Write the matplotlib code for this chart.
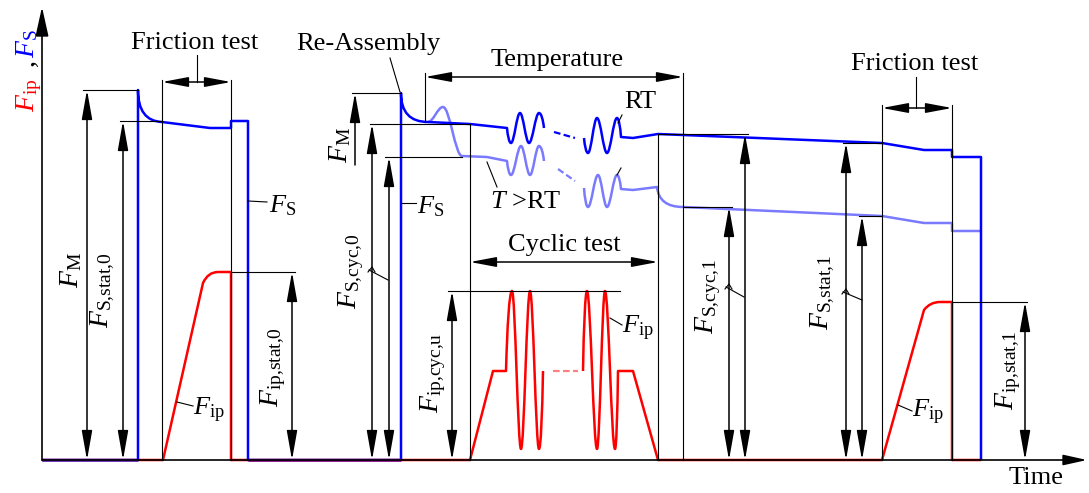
import matplotlib
matplotlib.use('Agg')
import matplotlib.pyplot as plt
from matplotlib.path import Path
from matplotlib.patches import PathPatch

plt.rcParams['font.family'] = 'Liberation Serif'
plt.rcParams['mathtext.fontset'] = 'custom'
plt.rcParams['mathtext.rm'] = 'Liberation Serif'
plt.rcParams['mathtext.it'] = 'Liberation Serif:italic'

# schematic time axis (x) and force axis (F), arbitrary units
# kinds: M move, L line, Q/q rounded corner (ctrl/end), R/S/E wave start/extremum/end

# clamp force F_S, dark blue (room temperature)
fs_a_t = [42, 138, 138, 138, 162, 210, 231, 231, 248, 248, 401, 401, 401, 428, 470, 507,
          511, 520, 529, 539, 544]
fs_a_f = [0, 0, 370, 339, 338, 332, 332, 339, 339, 0, 0, 367, 338, 338, 336, 332,
          317, 347, 317, 347, 332]
fs_a_k = "MLLQqLLLLLLLQqLLRSSSE"

fs_b_t = [584, 588, 597, 607, 617, 621, 633, 658, 882, 924, 952, 952, 981, 981]
fs_b_f = [322, 307, 342, 307, 342, 323, 322, 326, 317, 310, 310, 303, 303, 0]
fs_b_k = "MRSSSELLLLLLLL"

# clamp force F_S at T > RT, light blue
ft_a_t = [428, 443, 462, 487, 507, 511, 521, 530, 539, 544]
ft_a_f = [338, 353, 304, 303, 299, 285, 314, 285, 314, 299]
ft_a_k = "MSSLLRSSSE"

ft_b_t = [584, 588, 598, 607, 617, 621, 633, 657, 659, 683, 882, 924, 952, 952, 981]
ft_b_f = [272, 253, 285, 253, 285, 271, 270, 273, 253, 253, 244, 237, 237, 229, 229]
ft_b_k = "MRSSSELLQqLLLLL"

# interface force F_ip, red
fip_a_t = [42, 163, 203, 208, 218, 231, 231, 470, 493, 506, 512, 521, 530, 539, 543]
fip_a_f = [0, 0, 177, 188, 188, 188, 0, 0, 89, 89, 169, 11, 169, 11, 89]
fip_a_k = "MLLQqLLLLLRSSSE"

fip_b_t = [583, 587, 597, 605, 615, 618, 633, 658, 882, 924, 930, 940, 952, 952, 981]
fip_b_f = [89, 169, 11, 169, 11, 89, 89, 0, 0, 150, 158, 158, 158, 0, 0]
fip_b_k = "MRSSSELLLLQqLLL"

# "...." gaps between the two cycle blocks
gap_t0 = [554, 558, 553]
gap_t1 = [575, 575, 578]
gap_f0 = [328, 291, 89]
gap_f1 = [322, 279, 89]

# measured levels: double arrows from 0 up to the level
dim_t = [87, 123, 292, 372, 389, 452, 729, 745, 846, 862, 1025]
dim_f = [370, 339, 188, 336, 303, 169, 253, 326, 317, 244, 158]

# horizontal reference lines
ref_t0 = [83, 120, 231, 352, 370, 385, 448, 658, 683, 843, 859, 952]
ref_t1 = [138, 162, 295, 401, 470, 462, 620, 748, 732, 882, 882, 1027]
ref_f = [370, 339, 188, 367, 336, 303, 169, 326, 253, 317, 244, 158]

# vertical phase boundaries
bnd_t = [162, 231, 425, 470, 658, 683, 882, 952]
bnd_top = [380, 380, 387, 336, 326, 387, 355, 355]
bnd_bot = [0, 0, 338, 0, 0, 0, 0, 0]

# phase spans
span_t0 = [162, 425, 470, 882]
span_t1 = [231, 683, 658, 952]
span_f = [378, 383, 198, 352]
span_text = ['Friction test', 'Temperature', 'Cyclic test', 'Friction test']
span_text_t = [195, 557, 564, 915]
span_text_f = [417, 400, 215, 396]

# leader lines
leaders = [(197, 378, 197, 405), (916, 352, 916, 383), (390, 402, 400, 368),
           (618, 337, 622, 345), (617, 285, 621, 292), (487, 298, 497, 273),
           (248, 259, 267, 258), (402, 257, 416, 257), (177, 58, 193, 54),
           (610, 142, 622, 135), (898, 55, 912, 49),
           (369, 190, 388, 180), (726, 173, 744, 163), (843, 168, 862, 160)]
carets = [(372, 193), (729, 176), (846, 171)]

# upright labels
lab_text = ['Re-Assembly', 'RT', r'$T$ >RT', 'Time',
            r'$F_{\rm S}$', r'$F_{\rm S}$', r'$F_{\rm ip}$', r'$F_{\rm ip}$', r'$F_{\rm ip}$']
lab_t = [368, 640, 526, 1036, 269, 417, 193, 622, 912]
lab_f = [416, 358, 258, -18, 254, 253, 50, 132, 48]
lab_ha = ['center', 'center', 'center', 'center', 'left', 'left', 'left', 'left', 'left']

# rotated labels
rot_text = [r'$F_{\rm M}$', r'$F_{\rm S{,}stat{,}0}$', r'$F_{\rm ip{,}stat{,}0}$', r'$F_{\rm M}$',
            r'$F_{\rm S{,}cyc{,}0}$', r'$F_{\rm ip{,}cyc{,}u}$', r'$F_{\rm S{,}cyc{,}1}$',
            r'$F_{\rm S{,}stat{,}1}$', r'$F_{\rm ip{,}stat{,}1}$']
rot_t = [71, 103, 273, 340, 351, 433, 708, 823, 1008]
rot_f = [190, 170, 93, 315, 189, 87, 164, 168, 90]


def curve_path(ts, fs, kinds):
    verts = [(ts[0], fs[0])]
    codes = [Path.MOVETO]
    i = 1
    while i < len(ts):
        k = kinds[i]
        x0, y0 = verts[-1]
        x1, y1 = ts[i], fs[i]
        dx, dy = x1 - x0, y1 - y0
        if k == 'L':
            verts.append((x1, y1))
            codes.append(Path.LINETO)
        elif k == 'Q':
            verts += [(x1, y1), (ts[i + 1], fs[i + 1])]
            codes += [Path.CURVE3, Path.CURVE3]
            i += 1
        else:
            if k == 'S':
                c1, c2 = (x0 + 0.36 * dx, y0), (x1 - 0.36 * dx, y1)
            elif k == 'R':
                c1, c2 = (x0 + 0.2 * dx, y0 + 0.55 * dy), (x1 - 0.45 * dx, y1)
            else:
                c1, c2 = (x0 + 0.45 * dx, y0), (x1 - 0.2 * dx, y1 - 0.55 * dy)
            verts += [c1, c2, (x1, y1)]
            codes += [Path.CURVE4] * 3
        i += 1
    return Path(verts, codes)


fig = plt.figure(figsize=(10.89, 4.93), dpi=100)
ax = fig.add_axes([0, 0, 1, 1])
ax.set_xlim(0, 1089)
ax.set_ylim(-33, 460)
ax.axis('off')

thin = dict(color='black', lw=0.8)
arr = dict(arrowstyle='<|-|>,head_length=0.9,head_width=0.16', color='black',
           lw=1.1, shrinkA=0, shrinkB=0, mutation_scale=20)

# axes with arrows
ax.annotate('', xy=(42, 453), xytext=(42, 0),
            arrowprops=dict(arrowstyle='-|>,head_length=0.9,head_width=0.2', color='black',
                            lw=1.2, shrinkA=0, shrinkB=0, mutation_scale=20))
ax.annotate('', xy=(1087, 0), xytext=(42, 0),
            arrowprops=dict(arrowstyle='-|>,head_length=0.9,head_width=0.2', color='black',
                            lw=1.2, shrinkA=0, shrinkB=0, mutation_scale=16))

for t0, t1, f in zip(ref_t0, ref_t1, ref_f):
    ax.plot([t0, t1], [f, f], **thin)
for t, a, b in zip(bnd_t, bnd_bot, bnd_top):
    ax.plot([t, t], [a, b], **thin)
for t, f in zip(dim_t, dim_f):
    ax.annotate('', xy=(t, f), xytext=(t, 0), arrowprops=arr)
ax.annotate('', xy=(355, 367), xytext=(355, 295),
            arrowprops=dict(arr, arrowstyle='-|>,head_length=0.9,head_width=0.16'))
for t0, t1, f in zip(span_t0, span_t1, span_f):
    ax.annotate('', xy=(t1, f), xytext=(t0, f),
                arrowprops=dict(arr, arrowstyle='<|-|>,head_length=0.8,head_width=0.15'))
for x0, f0, x1, f1 in leaders:
    ax.plot([x0, x1], [f0, f1], **thin)
for t, f in carets:
    ax.plot([t - 4, t, t + 3], [f - 5, f, f - 5], **thin)

# curves
for ts, fs, ks in [(fip_a_t, fip_a_f, fip_a_k), (fip_b_t, fip_b_f, fip_b_k)]:
    ax.add_patch(PathPatch(curve_path(ts, fs, ks), fill=False, edgecolor='red', lw=1.8,
                           capstyle='butt', joinstyle='round'))
for ts, fs, ks in [(ft_a_t, ft_a_f, ft_a_k), (ft_b_t, ft_b_f, ft_b_k)]:
    ax.add_patch(PathPatch(curve_path(ts, fs, ks), fill=False, edgecolor='#7a7aff', lw=1.8,
                           capstyle='butt', joinstyle='round'))
for ts, fs, ks in [(fs_a_t, fs_a_f, fs_a_k), (fs_b_t, fs_b_f, fs_b_k)]:
    ax.add_patch(PathPatch(curve_path(ts, fs, ks), fill=False, edgecolor='blue', lw=1.8,
                           capstyle='butt', joinstyle='round'))
# overlapping red and blue on the time axis
ax.plot([42, 138], [0, 0], color='#5a1fb0', lw=1.8, solid_capstyle='butt')
ax.plot([248, 401], [0, 0], color='#800080', lw=1.8, solid_capstyle='butt')

gap_col = ['blue', '#7a7aff', '#ff8080']
for t0, t1, f0, f1, c in zip(gap_t0, gap_t1, gap_f0, gap_f1, gap_col):
    ax.plot([t0, t1], [f0, f1], color=c, lw=1.6, linestyle=(0, (3, 1.5)))

# text
for s, t, f in zip(span_text, span_text_t, span_text_f):
    ax.text(t, f, s, fontsize=19, ha='center', va='center')
for s, t, f, ha in zip(lab_text, lab_t, lab_f, lab_ha):
    ax.text(t, f, s, fontsize=19, ha=ha, va='center')
for s, t, f in zip(rot_text, rot_t, rot_f):
    ax.text(t, f, s, fontsize=20, ha='center', va='center', rotation=90)

# y-axis title in three colours
ax.text(34, 348, r'$F_{\rm ip}$', color='red', fontsize=20, rotation=90,
        rotation_mode='anchor', ha='left', va='baseline')
ax.text(34, 394, ',', color='black', fontsize=20, rotation=90,
        rotation_mode='anchor', ha='left', va='baseline')
ax.text(34, 402, r'$F_{\rm S}$', color='blue', fontsize=20, rotation=90,
        rotation_mode='anchor', ha='left', va='baseline')

plt.savefig('out.png', dpi=100)
